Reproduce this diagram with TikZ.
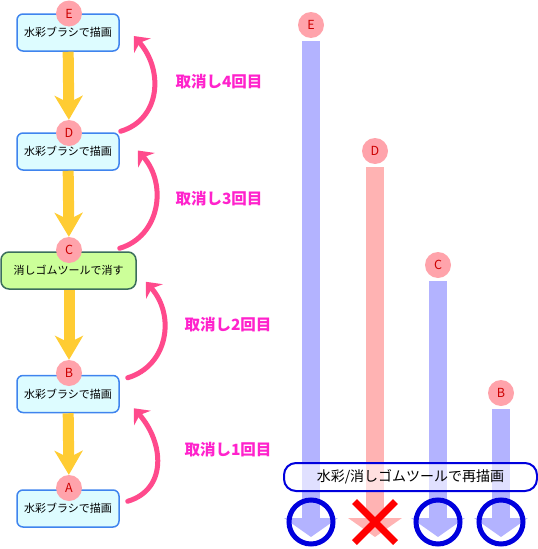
\documentclass[tikz,border=0pt]{standalone}
\usepackage{fontspec}
\setmainfont{Noto Sans CJK JP}
\usetikzlibrary{arrows.meta,shapes.misc}
\definecolor{paintfill}{HTML}{DDFCFF}
\definecolor{paintline}{HTML}{3F84EE}
\definecolor{erasefill}{HTML}{CCFF99}
\definecolor{eraseline}{HTML}{3B6E5C}
\definecolor{tagpink}{HTML}{FFA3AB}
\definecolor{tagred}{HTML}{CC0000}
\definecolor{flowyellow}{HTML}{FFCC33}
\definecolor{undopink}{HTML}{FF4A8C}
\definecolor{undotext}{HTML}{FF22CC}
\definecolor{barblue}{HTML}{B3B3FF}
\definecolor{barpink}{HTML}{FFB3B3}
\definecolor{okblue}{HTML}{0000DD}
\tikzset{
  paint/.style={draw=paintline,fill=paintfill,line width=1.5pt,rounded corners=6pt,
    minimum width=102pt,minimum height=37pt,inner sep=0pt,font=\fontsize{11}{13}\selectfont},
  erase/.style={paint,draw=eraseline,fill=erasefill,minimum width=135pt,rounded corners=8pt},
  tag/.style={circle,fill=tagpink,minimum size=26pt,inner sep=0pt,text=tagred,
    font=\fontsize{12.5}{14}\selectfont},
  flow/.style={draw=flowyellow,line width=11pt,-{Stealth[length=24pt,width=28pt,inset=7pt]}},
  undo/.style={draw=undopink,line width=5pt,line cap=round,-{Stealth[length=13pt,width=22pt,inset=4pt]}},
  undolabel/.style={text=undotext,font=\fontsize{15.5}{17}\selectfont\bfseries},
  bar/.style={line width=18pt,shorten <=3pt,-{Triangle[length=19pt,width=53pt]}},
  redraw/.style={draw=okblue,line width=2pt,fill=white,fill opacity=0.6,text opacity=1,
    rounded corners=12pt,minimum width=253pt,minimum height=28pt,font=\fontsize{14}{16}\selectfont},
  ok/.style={circle,draw=okblue,line width=5pt,minimum size=44pt,inner sep=0pt},
  ng/.style={cross out,draw=red,line width=7pt,minimum size=34pt,inner sep=0pt}
}
\begin{document}
\begin{tikzpicture}[x=1pt,y=-1pt]
\useasboundingbox (0,0) rectangle (538,549);
\node[paint] (boxE) at (68,32.5) {水彩ブラシで描画};
\node[paint] (boxD) at (68,151.5) {水彩ブラシで描画};
\node[erase] (boxC) at (68.5,270.5) {消しゴムツールで消す};
\node[paint] (boxB) at (68,394) {水彩ブラシで描画};
\node[paint] (boxA) at (68,508.5) {水彩ブラシで描画};
\node[tag] (tagE) at (69,13.5) {E};
\node[tag] (tagD) at (69,133) {D};
\node[tag] (tagC) at (69,250) {C};
\node[tag] (tagB) at (69,373) {B};
\node[tag] (tagA) at (69,488) {A};
\draw[flow] (boxE) -- (tagD);
\draw[flow] (boxD) -- (tagC);
\draw[flow] (boxC.south -| tagC) -- (tagB);
\draw[flow] (boxB) -- (tagA);
\draw[undo] ([shift={(1,-1)}]boxD.north east) .. controls +(40,-12) and +(30,34) .. ([shift={(14,3.5)}]boxE.east);
\draw[undo] ([shift={(-17,-3)}]boxC.north east) .. controls +(40,-12) and +(30,34) .. ([shift={(18,-1)}]boxD.east);
\draw[undo] ([shift={(8,3)}]boxB.north east) .. controls +(40,-12) and +(30,34) .. ([shift={(9,-8)}]boxC.south east);
\draw[undo] ([shift={(8,12)}]boxA.north east) .. controls +(40,-12) and +(30,34) .. ([shift={(14,-5)}]boxB.south east);
\node[undolabel] (undo4) at (219,82) {取消し4回目};
\node[undolabel] (undo3) at (219,199) {取消し3回目};
\node[undolabel] (undo2) at (228,325) {取消し2回目};
\node[undolabel] (undo1) at (228,450) {取消し1回目};
\node[tag] (rE) at (311,25) {E};
\node[tag] (rD) at (375,151) {D};
\node[tag] (rC) at (438,265) {C};
\node[tag] (rB) at (501,393) {B};
\coordinate (base) at (0,537);
\coordinate (mark) at (0,522);
\draw[bar,draw=barblue] (rE) -- (rE |- base);
\draw[bar,draw=barpink] (rD) -- (rD |- base);
\draw[bar,draw=barblue] (rC) -- (rC |- base);
\draw[bar,draw=barblue] (rB) -- (rB |- base);
\node[redraw] (redo) at (410.5,477) {水彩/消しゴムツールで再描画};
\node[ok] (okE) at (rE |- mark) {};
\node[ng] (ngD) at (rD |- mark) {};
\node[ok] (okC) at (rC |- mark) {};
\node[ok] (okB) at (rB |- mark) {};
\end{tikzpicture}
\end{document}
